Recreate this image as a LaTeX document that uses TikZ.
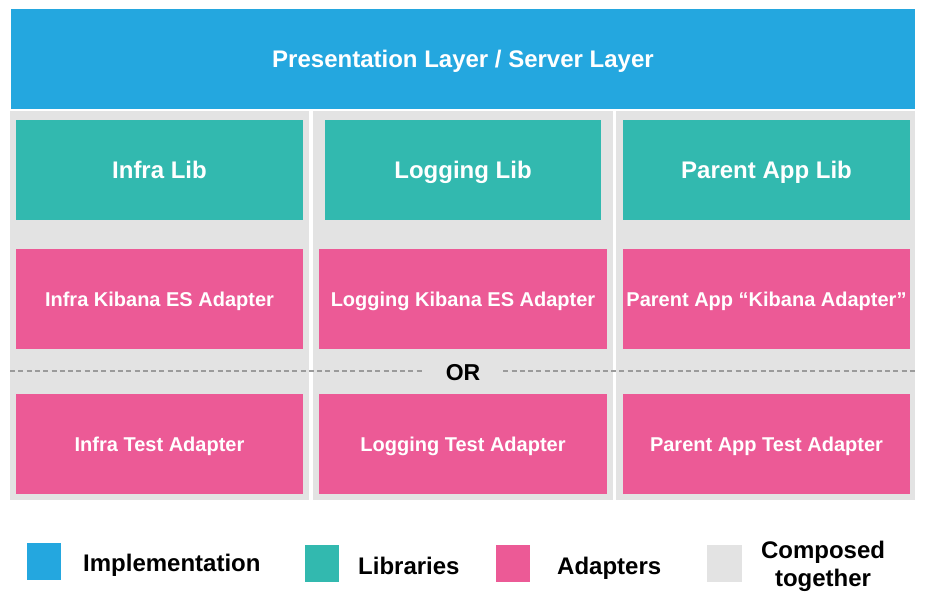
\documentclass[tikz,border=0pt]{standalone}
\usepackage{fontspec}
\setmainfont{Liberation Sans}
\definecolor{implblue}{HTML}{24A7DF}
\definecolor{libgreen}{HTML}{32B9AF}
\definecolor{adaptpink}{HTML}{EC5A96}
\definecolor{composedgray}{HTML}{E3E3E3}
\definecolor{dotgray}{HTML}{9B9B9B}

\begin{document}
\begin{tikzpicture}[x=1pt, y=-1pt,
    block/.style={rectangle, inner sep=0pt, text=white, text height=17.2pt, text depth=0pt, font=\bfseries\fontsize{24}{28}\selectfont},
    implbox/.style={block, fill=implblue},
    libbox/.style={block, fill=libgreen, minimum height=100pt},
    adaptbox/.style={block, fill=adaptpink, minimum height=100pt, text height=14.3pt, font=\bfseries\fontsize{20}{24}\selectfont},
    column/.style={rectangle, inner sep=0pt, fill=composedgray, minimum height=389pt},
    key/.style={rectangle, inner sep=0pt, minimum width=34pt, minimum height=37pt},
    keytext/.style={inner sep=0pt, text height=17.2pt, text depth=0pt, font=\bfseries\fontsize{24}{28}\selectfont},
    ordots/.style={dotgray, line width=2.5pt, dash pattern=on 5pt off 3.3pt}]

    \useasboundingbox (0,0) rectangle (925,606);

    % composed columns
    \node[column, minimum width=299pt] (infracol) at (159.5,305.5) {};
    \node[column, minimum width=300pt] (loggingcol) at (463,305.5) {};
    \node[column, minimum width=299pt] (parentcol) at (765.5,305.5) {};

    \node[implbox, minimum width=904pt, minimum height=100pt] (presentation) at (463,58.5) {Presentation Layer / Server Layer};

    \node[libbox, minimum width=287pt] (infralib) at (159.5,170) {Infra Lib};
    \node[libbox, minimum width=276pt] (logginglib) at (463,170) {Logging Lib};
    \node[libbox, minimum width=287pt] (parentlib) at (766.5,170) {Parent App Lib};

    \node[adaptbox, minimum width=287pt] (infrakibana) at (159.5,299) {Infra Kibana ES Adapter};
    \node[adaptbox, minimum width=288pt] (loggingkibana) at (463,299) {Logging Kibana ES Adapter};
    \node[adaptbox, minimum width=287pt] (parentkibana) at (766.5,299) {Parent App ``Kibana Adapter''};

    \node[adaptbox, minimum width=287pt] (infratest) at (159.5,444) {Infra Test Adapter};
    \node[adaptbox, minimum width=288pt] (loggingtest) at (463,444) {Logging Test Adapter};
    \node[adaptbox, minimum width=287pt] (parenttest) at (766.5,444) {Parent App Test Adapter};

    % either / or
    \node[inner sep=0pt, minimum width=80pt, text height=16.5pt, text depth=0pt, font=\bfseries\fontsize{23}{27}\selectfont] (or) at (463,372) {OR};
    \coordinate (orleft) at (10,371);
    \coordinate (orright) at (915,371);
    \draw[ordots] (orleft) -- (or.west |- orleft);
    \draw[ordots] (or.east |- orright) -- (orright);

    % legend
    \node[key, fill=implblue] (keyimpl) at (44,561.5) {};
    \node[keytext, anchor=west] (keyimpltext) at (83,563) {Implementation};
    \node[key, fill=libgreen] (keylib) at (322,563.5) {};
    \node[keytext, anchor=west] (keylibtext) at (358,566) {Libraries};
    \node[key, fill=adaptpink] (keyadapt) at (513,563.5) {};
    \node[keytext, anchor=west] (keyadapttext) at (557,566) {Adapters};
    \node[key, fill=composedgray, minimum width=35pt] (keycomposed) at (724.5,563.5) {};
    \node[inner sep=0pt, align=center, font=\bfseries\fontsize{24}{28}\selectfont] (keycomposedtext) at (823,566) {Composed\\together};

\end{tikzpicture}
\end{document}
